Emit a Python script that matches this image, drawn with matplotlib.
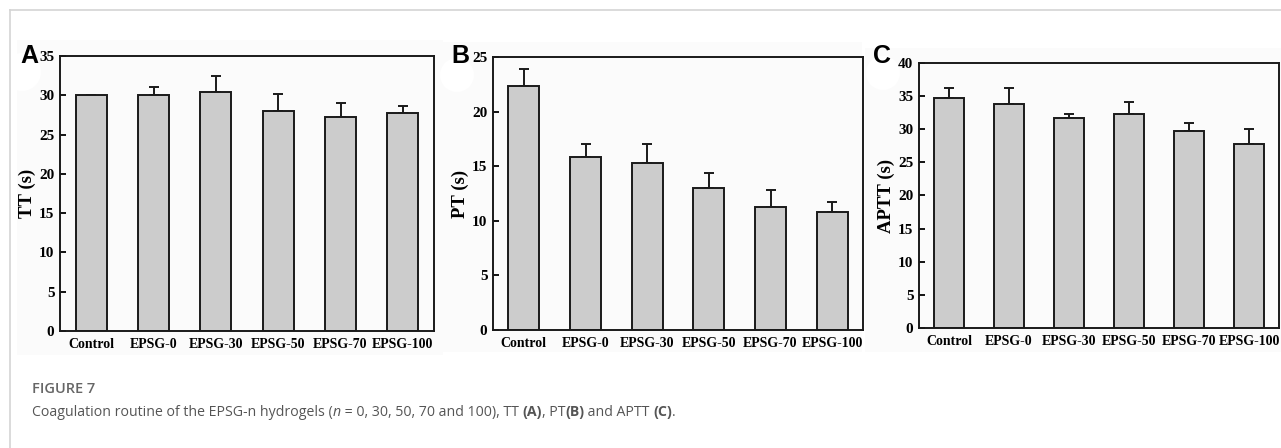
import numpy as np
import matplotlib
matplotlib.use('Agg')
import matplotlib.pyplot as plt
from matplotlib.patches import Rectangle, Ellipse
from matplotlib.transforms import IdentityTransform

groups = ['Control', 'EPSG-0', 'EPSG-30', 'EPSG-50', 'EPSG-70', 'EPSG-100']

tt = [30.0, 30.0, 30.4, 28.0, 27.3, 27.7]
tt_err = [0.0, 1.0, 2.0, 2.2, 1.7, 1.0]

pt = [22.3, 15.8, 15.3, 13.0, 11.3, 10.8]
pt_err = [1.6, 1.25, 1.7, 1.4, 1.55, 0.95]

aptt = [34.7, 33.8, 31.7, 32.3, 29.7, 27.7]
aptt_err = [1.55, 2.5, 0.6, 1.85, 1.2, 2.3]

W, H = 1281, 448
fig = plt.figure(figsize=(W / 100, H / 100), dpi=100)
fig.patch.set_facecolor('white')

def px_rect(l, t, r, b):
    # pixel box (top-left origin) -> figure fraction
    return [l / W, (H - b) / H, (r - l) / W, (b - t) / H]

# outer frame lines
fig.add_artist(plt.Line2D([9.5 / W, 9.5 / W], [0, 1 - 10 / H], color='#d4d4d4', lw=1.2))
fig.add_artist(plt.Line2D([9.5 / W, 1], [1 - 10 / H, 1 - 10 / H], color='#d4d4d4', lw=1.2))

# panel image backgrounds
for l, t, r, b in [(17, 40, 443, 355), (443, 42, 862, 352), (865, 48, 1281, 352)]:
    fig.add_artist(Rectangle((l / W, (H - b) / H), (r - l) / W, (b - t) / H,
                             transform=fig.transFigure, facecolor='#fbfbfb',
                             edgecolor='none', zorder=-3))
for cx, cy, rr in [(22, 72, 19), (457, 75, 17), (883, 73, 17)]:
    fig.add_artist(Ellipse((cx, H - cy), 2 * rr, 2 * rr, transform=IdentityTransform(),
                           facecolor='white', edgecolor='none', zorder=-2))

serif = 'Liberation Serif'

panels = [
    ('A', tt, tt_err, 'TT (s)', 35, px_rect(60, 56, 434, 331), (20, 63)),
    ('B', pt, pt_err, 'PT (s)', 25, px_rect(493, 57, 863, 330), (451, 63)),
    ('C', aptt, aptt_err, 'APTT (s)', 40, px_rect(919, 63, 1279, 328), (873, 63)),
]

for letter, vals, errs, ylab, ymax, rect, lpos in panels:
    ax = fig.add_axes(rect)
    ax.set_facecolor('none')
    x = np.arange(len(groups))
    ax.bar(x, vals, width=0.5, color='#cccccc', edgecolor='#1a1a1a', linewidth=1.4, zorder=2)
    ax.errorbar(x, vals, yerr=[np.zeros(len(errs)), errs], fmt='none', ecolor='#1a1a1a',
                elinewidth=1.4, capsize=3.5, capthick=1.4, zorder=1)
    ax.set_xlim(-0.5, len(groups) - 0.5)
    ax.set_ylim(0, ymax)
    ax.set_yticks(np.arange(0, ymax + 1, 5))
    ax.set_xticks(x)
    ax.set_xticklabels(groups)
    ax.tick_params(direction='in', length=4, width=1.3, top=False, right=False, pad=4)
    ax.tick_params(axis='x', pad=5)
    for lab in ax.get_xticklabels():
        lab.set_fontfamily(serif)
        lab.set_fontweight('bold')
        lab.set_fontsize(10)
    for lab in ax.get_yticklabels():
        lab.set_fontfamily(serif)
        lab.set_fontweight('bold')
        lab.set_fontsize(11)
    ax.set_ylabel(ylab, fontfamily=serif, fontweight='bold', fontsize=13.5, labelpad=2)
    for s in ax.spines.values():
        s.set_linewidth(1.4)
        s.set_color('#1a1a1a')
    fig.text(lpos[0] / W, (H - lpos[1]) / H, letter, fontfamily='Liberation Sans',
             fontweight='bold', fontsize=18, ha='left', va='baseline')

# caption
fig.text(32 / W, (H - 393) / H, 'FIGURE 7', fontfamily='Open Sans', fontsize=10.5,
         fontweight='semibold', color='#666666', ha='left', va='baseline')

pieces = [
    ('Coagulation routine of the EPSG-n hydrogels (', 'normal', 'normal'),
    ('n', 'italic', 'normal'),
    (' = 0, 30, 50, 70 and 100), TT ', 'normal', 'normal'),
    ('(A)', 'normal', 'bold'),
    (', PT', 'normal', 'normal'),
    ('(B)', 'normal', 'bold'),
    (' and APTT ', 'normal', 'normal'),
    ('(C)', 'normal', 'bold'),
    ('.', 'normal', 'normal'),
]
renderer = fig.canvas.get_renderer()
xpos = 32
for txt, style, weight in pieces:
    t = fig.text(xpos / W, (H - 416) / H, txt, fontfamily='Open Sans', fontsize=10.2,
                 color='#555555', style=style, fontweight=weight, ha='left', va='baseline')
    bb = t.get_window_extent(renderer)
    xpos += bb.width

fig.savefig('out.png', dpi=100)
